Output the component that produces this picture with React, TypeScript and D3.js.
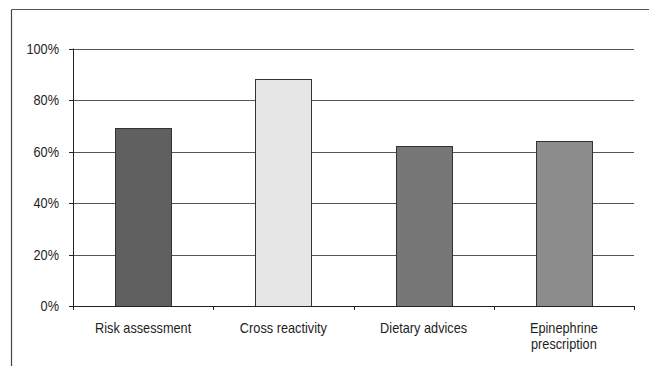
import React from "react";
import * as d3 from "d3";

const categories: string[][] = [
  ["Risk assessment"],
  ["Cross reactivity"],
  ["Dietary advices"],
  ["Epinephrine", "prescription"],
];
const values: number[] = [0.69, 0.88, 0.62, 0.64];
const barColors: string[] = ["#606060", "#e6e6e6", "#777777", "#8c8c8c"];
const yTicks: number[] = [0, 0.2, 0.4, 0.6, 0.8, 1.0];

const W = 649;
const H = 366;
const left = 73;
const right = 634;
const top = 48.5;
const bottom = 306;
const font = "'Liberation Sans', Arial, sans-serif";
const fontSize = 14;
const squeeze = 0.91; // horizontal condensing of the label face

function Label({ x, y, anchor, lines }: { x: number; y: number; anchor: string; lines: string[] }) {
  return (
    <g transform={`translate(${x},${y}) scale(${squeeze},1)`}>
      <text textAnchor={anchor} fontFamily={font} fontSize={fontSize} fill="#1e1e1e">
        {lines.map((l, j) => (
          <tspan key={j} x={0} y={j * 16} dy="0.36em">
            {l}
          </tspan>
        ))}
      </text>
    </g>
  );
}

export default function App() {
  const keys = categories.map((c) => c.join(" "));
  const x = d3.scaleBand<string>().domain(keys).range([left, right]).paddingInner(0.6).paddingOuter(0.3);
  const y = d3.scaleLinear().domain([0, 1]).range([bottom, top]);
  const step = x.step();
  const boundaries = d3.range(keys.length + 1).map((i) => left + i * step);

  return (
    <svg width={W} height={H} style={{ position: "absolute", left: 0, top: 0, background: "#fff" }}>
      {/* outer frame (top and left edges) */}
      <line x1={11.5} y1={9.5} x2={W} y2={9.5} stroke="#555" strokeWidth={1.2} />
      <line x1={11.5} y1={9.5} x2={11.5} y2={H} stroke="#444" strokeWidth={1.2} />

      {/* gridlines */}
      {yTicks.filter((t) => t > 0).map((t) => (
        <line key={t} x1={left} x2={right} y1={Math.round(y(t)) + 0.5} y2={Math.round(y(t)) + 0.5} stroke="#555" strokeWidth={1} />
      ))}

      {/* y axis */}
      <line x1={left + 0.5} x2={left + 0.5} y1={y(1)} y2={y(0)} stroke="#222" />
      {yTicks.map((t) => (
        <g key={t}>
          <line x1={left - 4} x2={left} y1={Math.round(y(t)) + 0.5} y2={Math.round(y(t)) + 0.5} stroke="#222" />
          <Label x={left - 14} y={y(t)} anchor="end" lines={[d3.format(".0%")(t)]} />
        </g>
      ))}

      {/* bars */}
      {keys.map((k, i) => (
        <rect
          key={k}
          x={Math.round(x(k)!) + 0.5}
          y={Math.round(y(values[i])) + 0.5}
          width={Math.round(x.bandwidth())}
          height={Math.round(y(0)) - Math.round(y(values[i]))}
          fill={barColors[i]}
          stroke="#333"
          strokeWidth={1}
        />
      ))}

      {/* x axis */}
      <line x1={left} x2={right + 0.5} y1={Math.round(y(0)) + 0.5} y2={Math.round(y(0)) + 0.5} stroke="#222" />
      {boundaries.map((b, i) => (
        <line key={i} x1={Math.round(b) + 0.5} x2={Math.round(b) + 0.5} y1={y(0)} y2={y(0) + 4} stroke="#222" />
      ))}
      {categories.map((lines, i) => (
        <Label key={keys[i]} x={x(keys[i])! + x.bandwidth() / 2} y={328} anchor="middle" lines={lines} />
      ))}
    </svg>
  );
}
